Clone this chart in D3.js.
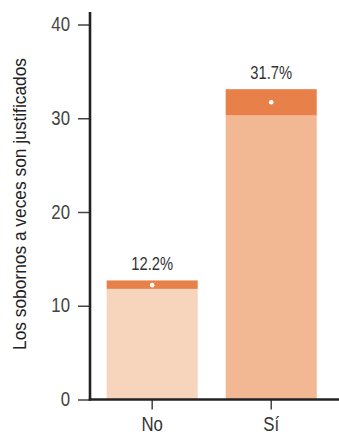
<!DOCTYPE html>
<html><head><meta charset="utf-8">
<script src="https://cdn.jsdelivr.net/npm/d3@7"></script>
<style>
body{margin:0;background:#fff;}
svg text{font-family:"Liberation Sans",Arial,sans-serif;}
</style></head>
<body><svg id="c" width="339" height="437"></svg>
<script>
const categories = ["No", "Sí"];
const values = [12.2, 31.7];
const ciLow = [11.8, 30.3];
const ciHigh = [12.7, 33.1];
const labels = ["12.2%", "31.7%"];
const yTicks = [0, 10, 20, 30, 40];
const yTitle = "Los sobornos a veces son justificados";
const barColors = ["#F6D5BC", "#F2B894"];
const ciColor = "#E8804A";

const svg = d3.select("#c");
const x0 = 90, x1 = 333.4, yBottom = 399.5, yTopLine = 12;
const y = d3.scaleLinear().domain([0, 40]).range([yBottom, 24.5]);
const x = d3.scaleBand().domain(categories).range([x0, x1]).paddingInner(0.235).paddingOuter(0.14);
const SX = 0.86, SL = 0.83;

const g = svg.append("g");
g.selectAll("rect.bar").data(categories).enter().append("rect")
  .attr("x", d => x(d)).attr("width", x.bandwidth())
  .attr("y", (d,i) => y(ciLow[i])).attr("height", (d,i) => y(0) - y(ciLow[i]))
  .attr("fill", (d,i) => barColors[i]);
g.selectAll("rect.ci").data(categories).enter().append("rect")
  .attr("x", d => x(d)).attr("width", x.bandwidth())
  .attr("y", (d,i) => y(ciHigh[i])).attr("height", (d,i) => y(ciLow[i]) - y(ciHigh[i]))
  .attr("fill", ciColor);
g.selectAll("circle").data(categories).enter().append("circle")
  .attr("cx", d => x(d) + x.bandwidth()/2).attr("cy", (d,i) => y(values[i]))
  .attr("r", 2.3).attr("fill", "#fff");
g.selectAll("text.lab").data(categories).enter().append("text")
  .attr("transform", (d,i) => `translate(${x(d) + x.bandwidth()/2},${y(ciHigh[i]) - 10}) scale(${SL},1)`)
  .attr("text-anchor", "middle").attr("font-size", 17.8).attr("fill", "#333")
  .text((d,i) => labels[i]);

// y axis
const ya = svg.append("g").attr("transform", `translate(${x0},0)`)
  .call(d3.axisLeft(y).tickValues(yTicks).tickSize(12).tickPadding(8));
ya.select(".domain").remove();
ya.selectAll(".tick line").attr("stroke", "#444").attr("stroke-width", 1.5);
ya.selectAll(".tick text").attr("font-size", 19.5).attr("fill", "#444")
  .attr("font-family", "Liberation Sans, Arial, sans-serif")
  .attr("x", -20 / SX).attr("transform", `scale(${SX},1)`);
svg.append("line").attr("x1", x0).attr("x2", x0).attr("y1", yTopLine).attr("y2", yBottom + 1)
  .attr("stroke", "#222").attr("stroke-width", 2.6);

// x axis
const xa = svg.append("g").attr("transform", `translate(0,${yBottom})`)
  .call(d3.axisBottom(x).tickSize(10).tickPadding(8));
xa.select(".domain").remove();
xa.selectAll(".tick line").attr("stroke", "#444").attr("stroke-width", 1.5);
xa.selectAll(".tick text").attr("font-size", 19.5).attr("fill", "#333")
  .attr("font-family", "Liberation Sans, Arial, sans-serif")
  .attr("transform", `scale(${SX},1)`);
svg.append("line").attr("x1", x0 - 1.3).attr("x2", 339).attr("y1", yBottom).attr("y2", yBottom)
  .attr("stroke", "#222").attr("stroke-width", 2.6);

svg.append("text").attr("transform", `translate(25.5,${204}) rotate(-90)`)
  .attr("text-anchor", "middle").attr("font-size", 17.5).attr("fill", "#222")
  .attr("textLength", 292).attr("lengthAdjust", "spacingAndGlyphs")
  .text(yTitle);
</script></body></html>
